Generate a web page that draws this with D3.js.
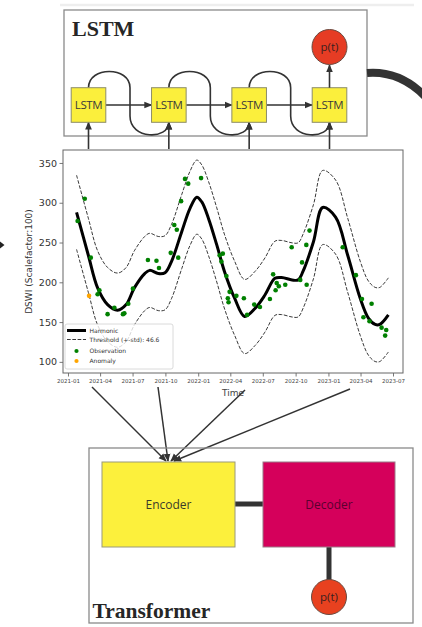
<!DOCTYPE html>
<html>
<head>
<meta charset="utf-8">
<script src="https://cdn.jsdelivr.net/npm/d3@7"></script>
<style>
  html, body { margin: 0; padding: 0; background: #fff; }
  svg { display: block; }
</style>
</head>
<body>
<svg id="fig" width="422" height="627"></svg>
<script>
// ---- Series data -------------------------------------------------------
const harmonicDates = [
  "2021-01-25","2021-02-27","2021-03-25","2021-04-22","2021-05-20","2021-06-13",
  "2021-07-06","2021-08-04","2021-08-18","2021-09-11","2021-09-30","2021-10-18",
  "2021-11-16","2021-12-09","2021-12-28","2022-01-11","2022-01-30","2022-02-22",
  "2022-03-16","2022-04-13","2022-05-11","2022-06-09","2022-07-07","2022-08-04",
  "2022-08-23","2022-09-21","2022-10-08","2022-10-22","2022-11-20","2022-12-16",
  "2023-01-21","2023-02-24","2023-03-31","2023-04-23","2023-05-12","2023-05-25",
  "2023-06-18"
];
const harmonicValues = [
  288, 234, 193, 172, 165, 172,
  193, 211, 215, 211, 212, 226,
  264, 293, 307, 301, 280, 247,
  213, 180, 157, 167, 184, 205,
  206, 203, 203, 214, 251, 294,
  282, 234, 180, 155, 147, 147,
  159
];

const observationDates = [
  "2021-01-28","2021-02-17","2021-03-06","2021-03-25","2021-03-30","2021-04-22",
  "2021-05-11","2021-06-04","2021-06-08","2021-06-19","2021-07-02","2021-08-13",
  "2021-09-06","2021-09-13","2021-10-16","2021-10-26","2021-11-02","2021-11-06",
  "2021-11-14","2021-11-25","2021-12-04","2022-01-09","2022-03-02","2022-03-11",
  "2022-03-07","2022-03-21","2022-03-30","2022-03-25","2022-03-27","2022-04-18",
  "2022-05-09","2022-05-18","2022-06-07","2022-06-23","2022-07-21","2022-07-30",
  "2022-08-09","2022-08-06","2022-08-15","2022-09-02","2022-09-20","2022-10-14",
  "2022-10-19","2022-10-31","2022-11-01","2022-11-09","2023-02-10","2023-03-19",
  "2023-04-05","2023-04-09","2023-05-02","2023-04-26","2023-05-30","2023-06-12",
  "2023-06-09"
];
const observationValues = [
  277, 305, 231, 185, 190, 160,
  168, 160, 161, 173, 192, 228,
  227, 218, 237, 272, 266, 231,
  302, 330, 324, 331, 234, 236,
  226, 208, 188, 180, 175, 183,
  180, 159, 172, 169, 179, 210,
  199, 190, 195, 197, 244, 203,
  225, 247, 197, 265, 244, 209,
  179, 156, 173, 151, 143, 140,
  133
];

const anomalyDates = ["2021-03-01"];
const anomalyValues = [183];

const thresholdStd = 46.6;

const yTickValues = [100, 150, 200, 250, 300, 350];
const xTickLabels = ["2021-01","2021-04","2021-07","2021-10","2022-01","2022-04",
                     "2022-07","2022-10","2023-01","2023-04","2023-07"];
const legendLabels = ["Harmonic", "Threshold (+-std): " + thresholdStd, "Observation", "Anomaly"];

const lstmCells = ["LSTM", "LSTM", "LSTM", "LSTM"];

// ---- Setup -------------------------------------------------------------
const parse = d3.timeParse("%Y-%m-%d");
const parseMonth = d3.timeParse("%Y-%m");
const svg = d3.select("#fig");
const ink = "#333";

const defs = svg.append("defs");
defs.append("marker")
  .attr("id", "arrow")
  .attr("viewBox", "0 0 10 10")
  .attr("refX", 9).attr("refY", 5)
  .attr("markerUnits", "userSpaceOnUse")
  .attr("markerWidth", 8).attr("markerHeight", 8)
  .attr("orient", "auto")
  .append("path").attr("d", "M0,0.8 L10,5 L0,9.2 Z").attr("fill", ink);

// faint rule at the very top
svg.append("line").attr("x1", 60).attr("x2", 414).attr("y1", 5).attr("y2", 5)
  .attr("stroke", "#eeeeee").attr("stroke-width", 2.5);

// small pointer at the left edge
svg.append("path").attr("d", "M0,241.5 L4.5,245 L0,248.5 Z").attr("fill", "#222");

// ---- LSTM panel --------------------------------------------------------
svg.append("rect").attr("x", 64).attr("y", 10).attr("width", 303).attr("height", 126)
  .attr("fill", "#fff").attr("stroke", "#8a8a8a").attr("stroke-width", 1.3);

svg.append("text").attr("x", 72).attr("y", 35.5)
  .attr("font-family", "Liberation Serif, serif").attr("font-weight", "bold")
  .attr("font-size", 22).attr("fill", "#262626").text("LSTM");

// thick connector leaving the panel
svg.append("path").attr("d", "M367,73 Q404,70 432,104")
  .attr("fill", "none").attr("stroke", ink).attr("stroke-width", 8);

const cellX = d3.scalePoint().domain(d3.range(lstmCells.length)).range([88.5, 329.5]);
const cellY = 105, half = 17.3;

const lstm = svg.append("g");
// recurrent loops between neighbouring cells
d3.range(lstmCells.length - 1).forEach(i => {
  const cx = cellX(i), nx = cellX(i + 1), mx = cx + 41.5;
  lstm.append("path")
    .attr("d", `M${cx},${cellY - half} C${cx},66 ${mx},66 ${mx},${cellY - half}
                L${mx},116 C${mx},140 ${nx},140 ${nx},${cellY + half}`)
    .attr("fill", "none").attr("stroke", ink).attr("stroke-width", 1.6)
    .attr("marker-end", "url(#arrow)");
  // hidden-state arrow
  lstm.append("line")
    .attr("x1", cx + half).attr("x2", nx - half).attr("y1", cellY).attr("y2", cellY)
    .attr("stroke", ink).attr("stroke-width", 1.6).attr("marker-end", "url(#arrow)");
});
// inputs from below
lstmCells.forEach((d, i) => {
  lstm.append("line")
    .attr("x1", cellX(i)).attr("x2", cellX(i)).attr("y1", 149).attr("y2", cellY + half)
    .attr("stroke", ink).attr("stroke-width", 1.6).attr("marker-end", "url(#arrow)");
});
// cells
lstm.selectAll("g.cell").data(lstmCells).join("g").attr("class", "cell")
  .each(function(d, i) {
    const g = d3.select(this);
    g.append("rect").attr("x", cellX(i) - half).attr("y", cellY - half)
      .attr("width", 2 * half).attr("height", 2 * half)
      .attr("fill", "#fbef3c").attr("stroke", "#8d8d6a").attr("stroke-width", 1);
    g.append("text").attr("x", cellX(i)).attr("y", cellY + 4.3)
      .attr("text-anchor", "middle").attr("font-family", "Open Sans, sans-serif")
      .attr("font-size", 11.5).attr("letter-spacing", -0.4).attr("fill", "#3a3a3a").text(d);
  });
// output
const lastX = cellX(lstmCells.length - 1);
lstm.append("line").attr("x1", lastX).attr("x2", lastX).attr("y1", cellY - half).attr("y2", 65)
  .attr("stroke", ink).attr("stroke-width", 1.6).attr("marker-end", "url(#arrow)");
lstm.append("circle").attr("cx", lastX).attr("cy", 47).attr("r", 17.5)
  .attr("fill", "#e63c24").attr("stroke", "#6a4a40").attr("stroke-width", 1);
lstm.append("text").attr("x", lastX).attr("y", 51).attr("text-anchor", "middle")
  .attr("font-family", "Open Sans, sans-serif").attr("font-size", 11.5)
  .attr("fill", "#3a2020").text("p(t)");

// ---- Time-series chart -------------------------------------------------
const x = d3.scaleTime()
  .domain([parse("2020-12-18"), parse("2023-07-29")])
  .range([63, 403]);
const y = d3.scaleLinear().domain([86, 366.3]).range([373, 150]);

const harmonic = harmonicDates.map((d, i) => ({ date: parse(d), value: harmonicValues[i] }));
const observations = observationDates.map((d, i) => ({ date: parse(d), value: observationValues[i] }));
const anomalies = anomalyDates.map((d, i) => ({ date: parse(d), value: anomalyValues[i] }));

const chart = svg.append("g");
chart.append("rect").attr("x", 63).attr("y", 150).attr("width", 340).attr("height", 223)
  .attr("fill", "#fff");

const line = d3.line().x(d => x(d.date)).curve(d3.curveCatmullRom.alpha(0.5));

// threshold band
[+1, -1].forEach(s => {
  chart.append("path").datum(harmonic)
    .attr("d", line.y(d => y(d.value + s * thresholdStd)))
    .attr("fill", "none").attr("stroke", "#222").attr("stroke-width", 0.9)
    .attr("stroke-dasharray", "3.7,1.6");
});
// harmonic fit
chart.append("path").datum(harmonic)
  .attr("d", line.y(d => y(d.value)))
  .attr("fill", "none").attr("stroke", "#000").attr("stroke-width", 3)
  .attr("stroke-linejoin", "round");

chart.selectAll("circle.obs").data(observations).join("circle").attr("class", "obs")
  .attr("cx", d => x(d.date)).attr("cy", d => y(d.value)).attr("r", 2.3)
  .attr("fill", "#008000");
chart.selectAll("circle.anom").data(anomalies).join("circle").attr("class", "anom")
  .attr("cx", d => x(d.date)).attr("cy", d => y(d.value)).attr("r", 2.3)
  .attr("fill", "#ffa500");

// legend
const lg = chart.append("g");
lg.append("rect").attr("x", 65).attr("y", 324).attr("width", 108).attr("height", 45)
  .attr("rx", 2).attr("fill", "#fff").attr("fill-opacity", 0.8)
  .attr("stroke", "#d0d0d0").attr("stroke-width", 0.8);
const rowY = [330.5, 339.5, 351, 361];
lg.append("line").attr("x1", 67).attr("x2", 86).attr("y1", rowY[0]).attr("y2", rowY[0])
  .attr("stroke", "#000").attr("stroke-width", 3);
lg.append("line").attr("x1", 67).attr("x2", 86).attr("y1", rowY[1]).attr("y2", rowY[1])
  .attr("stroke", "#222").attr("stroke-width", 0.9).attr("stroke-dasharray", "3.7,1.6");
lg.append("circle").attr("cx", 76.5).attr("cy", rowY[2]).attr("r", 2.1).attr("fill", "#008000");
lg.append("circle").attr("cx", 76.5).attr("cy", rowY[3]).attr("r", 2.1).attr("fill", "#ffa500");
legendLabels.forEach((t, i) => {
  lg.append("text").attr("x", 89.5).attr("y", rowY[i] + 2.1)
    .attr("font-family", "DejaVu Sans, sans-serif").attr("font-size", 6)
    .attr("fill", "#333").text(t);
});

// axes
const yAxis = chart.append("g").attr("transform", "translate(63,0)")
  .call(d3.axisLeft(y).tickValues(yTickValues).tickSize(3.5).tickPadding(2.5));
yAxis.selectAll("text").attr("font-family", "DejaVu Sans, sans-serif")
  .attr("font-size", 9.5).attr("fill", "#333");

const xAxis = chart.append("g").attr("transform", "translate(0,373)")
  .call(d3.axisBottom(x).tickValues(xTickLabels.map(parseMonth))
    .tickFormat(d3.timeFormat("%Y-%m")).tickSize(3.5).tickPadding(2.5));
xAxis.selectAll("text").attr("font-family", "DejaVu Sans, sans-serif")
  .attr("font-size", 5.5).attr("fill", "#444");

[yAxis, xAxis].forEach(a => {
  a.select(".domain").remove();
  a.selectAll("line").attr("stroke", "#555").attr("stroke-width", 0.8);
});
chart.append("rect").attr("x", 63).attr("y", 150).attr("width", 340).attr("height", 223)
  .attr("fill", "none").attr("stroke", "#666").attr("stroke-width", 1);

chart.append("text").attr("x", 233).attr("y", 396).attr("text-anchor", "middle")
  .attr("font-family", "DejaVu Sans, sans-serif").attr("font-size", 9)
  .attr("fill", "#444").text("Time");
chart.append("text")
  .attr("transform", "translate(31.5,261.5) rotate(-90)")
  .attr("text-anchor", "middle")
  .attr("font-family", "DejaVu Sans, sans-serif").attr("font-size", 9)
  .attr("fill", "#333").text("DSWI (Scalefactor:100)");

// ---- Transformer panel -------------------------------------------------
const tf = svg.append("g");
const feedStarts = [[92, 387], [158, 387], [245, 390], [350, 389]];
const feedEnds = [166, 168, 171, 174];
feedStarts.forEach((p, i) => {
  tf.append("line").attr("x1", p[0]).attr("y1", p[1]).attr("x2", feedEnds[i]).attr("y2", 461)
    .attr("stroke", ink).attr("stroke-width", 1.5).attr("marker-end", "url(#arrow)");
});

tf.append("rect").attr("x", 89).attr("y", 448).attr("width", 324).attr("height", 175)
  .attr("fill", "none").attr("stroke", "#8a8a8a").attr("stroke-width", 1.3);

tf.append("line").attr("x1", 235).attr("x2", 263).attr("y1", 504).attr("y2", 504)
  .attr("stroke", ink).attr("stroke-width", 5);
tf.append("line").attr("x1", 329).attr("x2", 329).attr("y1", 547).attr("y2", 581)
  .attr("stroke", ink).attr("stroke-width", 5);

tf.append("rect").attr("x", 102).attr("y", 462).attr("width", 133).attr("height", 85)
  .attr("fill", "#fcf03c").attr("stroke", "#9a9a7a").attr("stroke-width", 1);
tf.append("rect").attr("x", 263).attr("y", 462).attr("width", 132).attr("height", 85)
  .attr("fill", "#d5005b").attr("stroke", "#9a7a88").attr("stroke-width", 1);

tf.append("text").attr("x", 168.5).attr("y", 508.5).attr("text-anchor", "middle")
  .attr("font-family", "Open Sans, sans-serif").attr("font-size", 12)
  .attr("fill", "#3a3a2a").text("Encoder");
tf.append("text").attr("x", 329).attr("y", 508.5).attr("text-anchor", "middle")
  .attr("font-family", "Open Sans, sans-serif").attr("font-size", 12)
  .attr("fill", "#5a0030").text("Decoder");

tf.append("circle").attr("cx", 329).attr("cy", 597).attr("r", 17.5)
  .attr("fill", "#e8411f").attr("stroke", "#6a4a40").attr("stroke-width", 1);
tf.append("text").attr("x", 329).attr("y", 601).attr("text-anchor", "middle")
  .attr("font-family", "Open Sans, sans-serif").attr("font-size", 11.5)
  .attr("fill", "#3a2020").text("p(t)");

tf.append("text").attr("x", 92.5).attr("y", 618)
  .attr("font-family", "Liberation Serif, serif").attr("font-weight", "bold")
  .attr("font-size", 21.5).attr("fill", "#262626").text("Transformer");
</script>
</body>
</html>
